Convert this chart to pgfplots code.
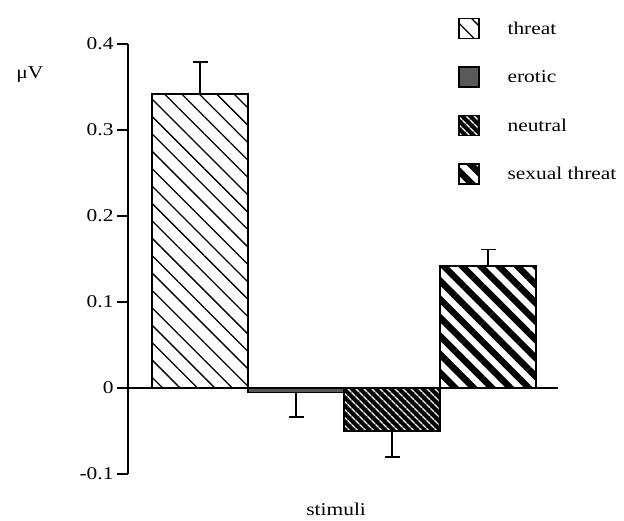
\documentclass[border=0pt]{standalone}
\usepackage{pgfplots}
\pgfplotsset{compat=1.18}
\usepackage{fontspec}
\setmainfont{Liberation Serif}[FakeStretch=1.19]
\usetikzlibrary{patterns.meta}
\newcommand\lf{\fontsize{18bp}{21bp}\selectfont}
\pgfplotsset{sqleg/.style={legend image code/.code={\draw[##1] (0bp,-10bp) rectangle (20bp,10bp); \path (46bp,0bp);}}}
\begin{document}
\begin{tikzpicture}
\useasboundingbox (0,0) rectangle (624bp,521bp);
\begin{axis}[
  at={(128bp,47bp)}, anchor=south west,
  x=96bp, y=860bp,
  xmin=-0.75, xmax=3.73, ymin=-0.1, ymax=0.4,
  axis x line*=middle, axis y line*=left,
  axis line style={line width=1.8bp},
  xtick=\empty,
  ytick={-0.1,0,0.1,0.2,0.3,0.4},
  yticklabels={-0.1,0,0.1,0.2,0.3,0.4},
  tick align=outside, major tick length=11bp,
  tick style={line width=1.8bp, black},
  every tick label/.append style={font=\lf},
  ylabel={μV},
  ylabel style={at={(rel axis cs:-0.228,0.928)}, rotate=-90, anchor=center, font=\lf},
  xlabel={stimuli},
  xlabel style={at={(rel axis cs:0.484,-0.082)}, anchor=center, font=\lf},
  clip=false,
  ybar, bar width=96bp,
  error bars/y explicit,
  error bars/error bar style={line width=1.5bp, black},
  error bars/error mark options={rotate=90, mark size=7.5bp, line width=1.5bp, black},
  legend style={draw=none, fill=none, at={(rel axis cs:0.767,1.061)}, anchor=north west,
    inner sep=0pt, row sep=27bp, font=\lf},
  legend cell align=left,
]
\addplot[bar shift=0pt, draw=black, line width=1.5bp,
  pattern={Lines[angle=-45,distance=12.3bp,line width=1.3bp]}, pattern color=black,
  error bars/y dir=plus, sqleg]
  coordinates {(0,0.342) +- (0,0.037)};
\addlegendentry{threat}
\addplot[bar shift=0pt, draw=black, line width=1.5bp, fill=black!65,
  error bars/y dir=minus, sqleg]
  coordinates {(1,-0.005) +- (0,0.029)};
\addlegendentry{erotic}
\addplot[bar shift=0pt, draw=black, line width=1.5bp, preaction={fill=black},
  pattern={Lines[angle=-45,distance=6bp,line width=1.5bp]}, pattern color=white,
  error bars/y dir=minus, sqleg]
  coordinates {(2,-0.050) +- (0,0.030)};
\addlegendentry{neutral}
\addplot[bar shift=0pt, draw=black, line width=1.5bp,
  pattern={Lines[angle=-45,distance=13bp,line width=6.5bp]}, pattern color=black,
  error bars/y dir=plus, sqleg]
  coordinates {(3,0.142) +- (0,0.019)};
\addlegendentry{sexual threat}
\end{axis}
\end{tikzpicture}
\end{document}
